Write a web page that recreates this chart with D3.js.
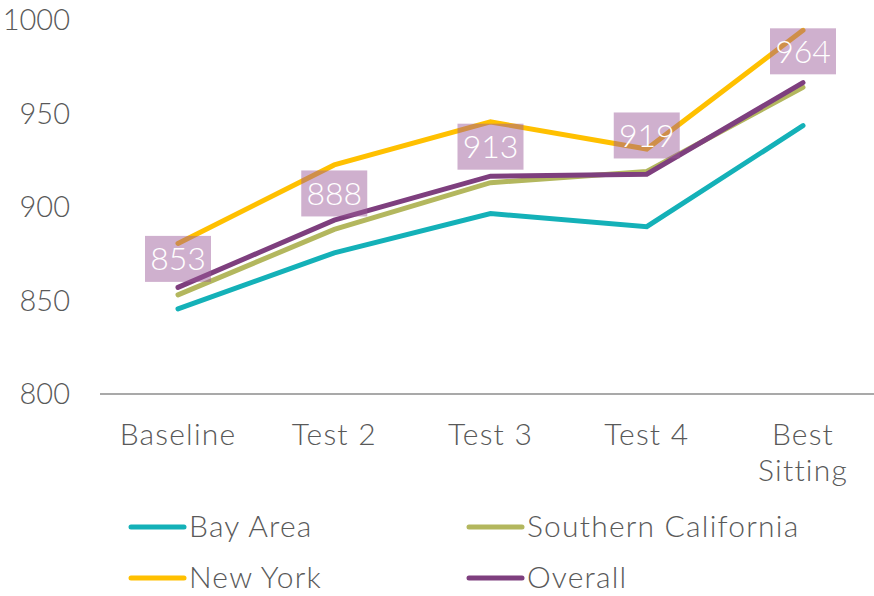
<!DOCTYPE html>
<html>
<head>
<meta charset="utf-8">
<script src="https://cdn.jsdelivr.net/npm/d3@7"></script>
<style>
  body { margin: 0; background: #fff; }
  svg text { font-family: Lato, "Open Sans", sans-serif; font-weight: 300; }
</style>
</head>
<body>
<div id="chart"></div>
<script>
var categories = ["Baseline", "Test 2", "Test 3", "Test 4", "Best Sitting"];
var bayArea = [845.5, 875.5, 896.5, 889.5, 943.5];
var southernCalifornia = [853, 888, 913, 919, 964];
var newYork = [880.5, 922.5, 945.5, 931, 994.5];
var overall = [857, 893, 916.5, 917.5, 966.5];
var yTicks = [800, 850, 900, 950, 1000];

var series = [
    {name: "Bay Area", values: bayArea, color: "#14b1b8"},
    {name: "Southern California", values: southernCalifornia, color: "#b3b75e"},
    {name: "New York", values: newYork, color: "#ffc000"},
    {name: "Overall", values: overall, color: "#7e3f7e"}
];
// draw order: yellow, teal, olive, then purple on top
var drawOrder = [series[2], series[0], series[1], series[3]];

var width = 874, height = 596;

var x = d3.scalePoint()
    .domain(categories)
    .range([178, 803]);

var y = d3.scaleLinear()
    .domain([800, 1000])
    .range([394, 20]);

var svg = d3.select("#chart").append("svg")
    .attr("width", width)
    .attr("height", height);

// y tick labels
svg.append("g").selectAll("text")
    .data(yTicks)
    .enter().append("text")
    .attr("x", 70)
    .attr("y", function(d) { return y(d); })
    .attr("dy", "0.36em")
    .attr("text-anchor", "end")
    .attr("font-size", 29)
    .attr("fill", "#595959")
    .text(function(d) { return d; });

// baseline axis
svg.append("line")
    .attr("x1", 100).attr("x2", 874)
    .attr("y1", y(800)).attr("y2", y(800))
    .attr("stroke", "#8c8c8c")
    .attr("stroke-width", 1.3);

// x labels
var xl = svg.append("g").selectAll("text")
    .data(categories)
    .enter().append("text")
    .attr("x", function(d) { return x(d); })
    .attr("y", 445)
    .attr("text-anchor", "middle")
    .attr("font-size", 30)
    .attr("letter-spacing", 1.2)
    .attr("fill", "#595959");
xl.each(function(d) {
    var words = d === "Best Sitting" ? ["Best", "Sitting"] : [d];
    var t = d3.select(this);
    words.forEach(function(w, i) {
        t.append("tspan")
            .attr("x", x(d))
            .attr("dy", i === 0 ? 0 : 36)
            .text(w);
    });
});

var line = d3.line()
    .x(function(d, i) { return x(categories[i]); })
    .y(function(d) { return y(d); });

svg.append("g").selectAll("path")
    .data(drawOrder)
    .enter().append("path")
    .attr("d", function(d) { return line(d.values); })
    .attr("fill", "none")
    .attr("stroke", function(d) { return d.color; })
    .attr("stroke-width", 5)
    .attr("stroke-linecap", "round")
    .attr("stroke-linejoin", "miter");

// data labels (Southern California values)
var lab = svg.append("g").selectAll("g")
    .data(southernCalifornia)
    .enter().append("g")
    .attr("transform", function(d, i) {
        return "translate(" + x(categories[i]) + "," + (y(d) - 36) + ")";
    });
lab.append("rect")
    .attr("x", -33).attr("y", -23)
    .attr("width", 66).attr("height", 46)
    .attr("fill", "#9b5a99")
    .attr("fill-opacity", 0.48);
lab.append("text")
    .attr("text-anchor", "middle")
    .attr("dy", "0.36em")
    .attr("font-size", 32)
    .attr("fill", "#fff")
    .text(function(d) { return d; });

// legend
var legendPos = [
    {x: 129, y: 527}, {x: 467, y: 527},
    {x: 129, y: 578}, {x: 467, y: 578}
];
var leg = svg.append("g").selectAll("g")
    .data(series)
    .enter().append("g")
    .attr("transform", function(d, i) {
        return "translate(" + legendPos[i].x + "," + legendPos[i].y + ")";
    });
leg.append("line")
    .attr("x1", 2).attr("x2", 55)
    .attr("stroke", function(d) { return d.color; })
    .attr("stroke-width", 5)
    .attr("stroke-linecap", "round");
leg.append("text")
    .attr("x", 60)
    .attr("dy", "0.34em")
    .attr("font-size", 30)
    .attr("letter-spacing", 1.2)
    .attr("fill", "#595959")
    .text(function(d) { return d.name; });
</script>
</body>
</html>
